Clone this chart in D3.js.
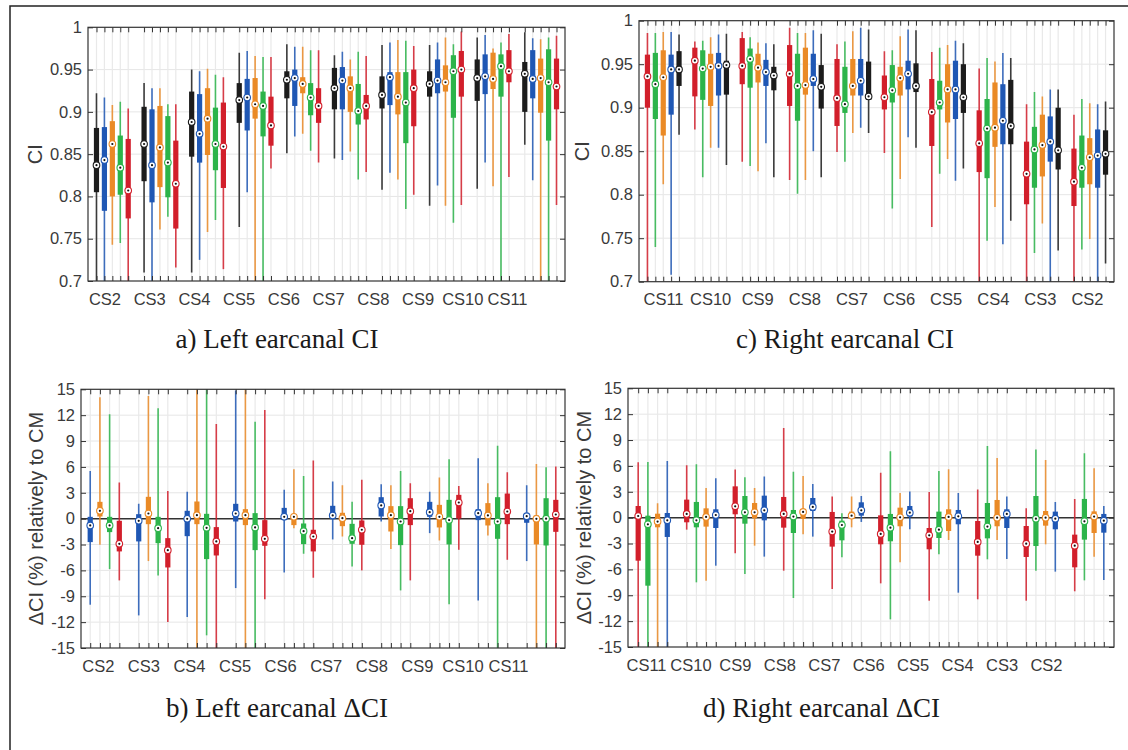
<!DOCTYPE html>
<html lang="en">
<head>
<meta charset="UTF-8">
<title>Earcanal CI box plots</title>
<style>
  body { margin: 0; background: #fff; }
  svg { display: block; }
  .tick text { font-family: 'Liberation Sans', Arial, sans-serif; font-size: 16.5px; fill: #3a3a3a; }
  .ylab { font-family: 'Liberation Sans', Arial, sans-serif; font-size: 20px; fill: #3a3a3a; }
  .ptitle { font-family: 'Liberation Serif', 'Times New Roman', serif; font-size: 27px; fill: #1a1a1a; }
</style>
<script src="https://d3js.org/d3.v7.min.js"></script>
</head>
<body>
<div id="chart"></div>
<script>
// each box: [whisker low, q1, median, q3, whisker high]; values past the axis get clipped
const groupsLeft = ["CS2", "CS3", "CS4", "CS5", "CS6", "CS7", "CS8", "CS9", "CS10", "CS11"];
const groupsRight = groupsLeft.slice().reverse();

const black = "#1c1c1c", blue = "#1f57b4", orange = "#ea8a26", green = "#2cb44a", red = "#d21f2b";
const colorsLeftCI = [black, blue, orange, green, red];
const colorsRightCI = [red, green, orange, blue, black];
const colorsLeftD = [blue, orange, green, red];
const colorsRightD = [red, green, orange, blue];

const ciTicks = [0.7, 0.75, 0.8, 0.85, 0.9, 0.95, 1];
const deltaTicks = [-15, -12, -9, -6, -3, 0, 3, 6, 9, 12, 15];

// a) left CI, CS2..CS11 (black, blue, orange, green, red)
const leftCI = [
  [[0.68,0.805,0.837,0.881,0.922],[0.68,0.783,0.843,0.882,0.917],[0.743,0.800,0.862,0.889,0.908],[0.745,0.802,0.834,0.872,0.912],[0.68,0.774,0.807,0.868,0.904]],
  [[0.710,0.818,0.862,0.906,0.934],[0.68,0.793,0.837,0.903,0.928],[0.761,0.811,0.858,0.907,0.928],[0.776,0.799,0.840,0.895,0.909],[0.716,0.762,0.815,0.866,0.909]],
  [[0.710,0.847,0.888,0.924,0.950],[0.725,0.840,0.874,0.921,0.948],[0.758,0.849,0.892,0.928,0.951],[0.772,0.831,0.862,0.905,0.944],[0.714,0.810,0.859,0.911,0.941]],
  [[0.764,0.887,0.914,0.934,0.970],[0.805,0.878,0.917,0.939,0.972],[0.68,0.892,0.909,0.940,0.966],[0.68,0.871,0.907,0.924,0.965],[0.833,0.860,0.884,0.918,0.965]],
  [[0.851,0.916,0.938,0.948,0.980],[0.871,0.907,0.940,0.950,0.977],[0.874,0.922,0.933,0.941,0.977],[0.854,0.896,0.917,0.934,0.973],[0.840,0.887,0.907,0.928,0.973]],
  [[0.845,0.903,0.928,0.952,0.967],[0.843,0.903,0.937,0.953,0.971],[0.853,0.900,0.928,0.942,0.962],[0.820,0.885,0.901,0.933,0.971],[0.829,0.891,0.907,0.920,0.966]],
  [[0.808,0.904,0.920,0.942,0.979],[0.828,0.908,0.941,0.947,0.982],[0.820,0.897,0.918,0.947,0.985],[0.785,0.863,0.911,0.947,0.984],[0.802,0.883,0.928,0.950,0.978]],
  [[0.789,0.918,0.933,0.948,0.979],[0.813,0.922,0.937,0.962,0.982],[0.789,0.924,0.935,0.955,0.988],[0.769,0.893,0.948,0.967,0.980],[0.790,0.918,0.950,0.972,0.995]],
  [[0.809,0.913,0.940,0.962,0.988],[0.840,0.921,0.942,0.968,0.991],[0.812,0.927,0.939,0.970,0.975],[0.68,0.918,0.954,0.968,0.982],[0.823,0.935,0.948,0.973,0.992]],
  [[0.861,0.900,0.945,0.959,0.994],[0.819,0.916,0.939,0.973,0.987],[0.68,0.899,0.940,0.963,0.986],[0.68,0.866,0.935,0.974,0.988],[0.790,0.903,0.930,0.963,0.990]]
];

// c) right CI, CS11..CS2 (red, green, orange, blue, black)
const rightCI = [
  [[0.68,0.900,0.936,0.961,0.986],[0.740,0.887,0.927,0.963,0.986],[0.812,0.868,0.935,0.966,0.987],[0.708,0.892,0.944,0.961,0.987],[0.869,0.925,0.944,0.965,0.984]],
  [[0.875,0.913,0.954,0.969,0.976],[0.820,0.909,0.945,0.966,0.977],[0.854,0.902,0.947,0.962,0.981],[0.854,0.914,0.948,0.963,0.984],[0.834,0.915,0.949,0.954,0.985]],
  [[0.838,0.927,0.948,0.980,0.987],[0.833,0.923,0.956,0.968,0.981],[0.827,0.929,0.946,0.962,0.975],[0.859,0.925,0.941,0.955,0.974],[0.820,0.920,0.937,0.947,0.973]],
  [[0.817,0.902,0.939,0.972,0.992],[0.801,0.885,0.925,0.962,0.986],[0.817,0.915,0.926,0.969,0.986],[0.850,0.925,0.933,0.962,0.989],[0.820,0.899,0.924,0.949,0.985]],
  [[0.849,0.879,0.911,0.956,0.973],[0.838,0.894,0.904,0.947,0.976],[0.871,0.914,0.925,0.956,0.988],[0.877,0.914,0.931,0.956,0.992],[0.871,0.909,0.913,0.953,0.990]],
  [[0.848,0.898,0.912,0.937,0.965],[0.784,0.906,0.920,0.949,0.966],[0.818,0.914,0.934,0.947,0.982],[0.866,0.921,0.939,0.954,0.990],[0.854,0.918,0.925,0.951,0.989]],
  [[0.763,0.856,0.895,0.933,0.964],[0.824,0.898,0.906,0.931,0.969],[0.841,0.883,0.921,0.950,0.972],[0.816,0.887,0.921,0.954,0.977],[0.830,0.894,0.912,0.950,0.974]],
  [[0.68,0.826,0.859,0.897,0.945],[0.747,0.819,0.876,0.910,0.957],[0.786,0.855,0.877,0.929,0.953],[0.743,0.858,0.885,0.927,0.963],[0.770,0.858,0.879,0.932,0.957]],
  [[0.68,0.789,0.824,0.861,0.904],[0.733,0.808,0.852,0.878,0.918],[0.767,0.821,0.857,0.892,0.913],[0.68,0.838,0.861,0.890,0.921],[0.736,0.829,0.851,0.900,0.921]],
  [[0.68,0.787,0.815,0.853,0.892],[0.737,0.808,0.831,0.868,0.910],[0.749,0.812,0.843,0.865,0.905],[0.68,0.808,0.845,0.875,0.904],[0.721,0.823,0.847,0.874,0.907]]
];

// b) left delta CI (%), CS2..CS11 (blue, orange, green, red)
const leftDelta = [
  [[-9.98,-2.72,-0.79,0.21,5.54],[-3.03,0.25,0.91,1.95,14.07],[-5.85,-1.56,-0.79,0.21,12.10],[-7.16,-3.80,-2.92,-0.25,4.19]],
  [[-11.22,-2.64,-0.25,0.52,1.72],[-4.92,-0.64,0.60,2.53,14.23],[-6.58,-2.84,-1.10,0.21,12.80],[-11.99,-5.66,-3.65,-2.26,3.22]],
  [[-11.41,-2.03,-0.02,0.91,3.11],[-16,-0.64,0.40,1.99,16],[-13.53,-4.69,-1.06,0.56,16],[-16,-4.27,-2.64,-0.98,10.98]],
  [[-8.05,-0.33,0.60,1.72,14.85],[-16,-0.75,0.40,1.10,16],[-16,-3.65,-1.02,0.64,11.25],[-9.36,-3.15,-2.34,-0.17,12.61]],
  [[-6.24,-0.17,0.21,1.25,3.34],[-1.10,-0.75,0.21,0.40,5.73],[-4.07,-2.95,-1.45,-0.56,4.96],[-6.85,-3.80,-2.07,-1.29,6.74]],
  [[-2.41,-0.06,0.37,1.49,4.30],[-2.07,-0.87,0.06,0.68,3.88],[-5.54,-2.92,-2.26,-0.60,1.95],[-6.00,-3.03,-1.29,-0.21,4.50]],
  [[-0.33,0.25,1.53,2.49,4.00],[-3.53,-1.49,0.40,1.45,3.88],[-8.32,-3.07,-0.33,1.45,5.54],[-7.16,-0.75,0.87,2.37,4.11]],
  [[-1.68,0.21,0.75,1.95,3.11],[-2.53,-1.02,0.21,1.60,4.77],[-9.94,-2.99,-0.17,2.18,6.89],[-3.61,0.02,1.87,2.76,3.80]],
  [[-9.48,-0.17,0.64,1.10,7.01],[-1.95,-0.79,0.37,1.80,4.11],[-16,-2.34,-0.33,2.49,8.44],[-4.77,-0.64,0.83,2.91,5.39]],
  [[-4.92,-0.48,0.29,0.56,3.88],[-16,-2.99,-0.02,0.37,6.35],[-16,-3.11,0,2.37,5.97],[-16,-1.53,0.48,2.18,6.04]]
];

// d) right delta CI (%), CS11..CS2 (red, green, orange, blue)
const rightDelta = [
  [[-16,-4.99,0.19,1.35,6.42],[-16,-7.89,-0.77,0.23,6.46],[-16,-1.12,-0.46,0.46,1.66],[-16,-2.24,-0.31,0.54,6.57]],
  [[-1.39,-0.54,0.43,2.09,6.07],[-7.50,-1.12,-0.31,1.82,6.19],[-7.31,-1.04,0.08,1.08,3.44],[-5.57,-1.20,0.31,0.97,4.56]],
  [[-4.14,0.39,1.31,3.63,5.57],[-6.53,-0.70,0.62,2.51,4.68],[-3.25,-0.08,0.62,1.70,3.44],[-4.52,-0.31,0.85,2.55,4.76]],
  [[-6.15,-1.16,0.43,2.40,10.40],[-9.32,-1.78,0.12,0.89,5.33],[-1.93,-0.15,0.66,0.97,4.83],[-2.20,0.77,1.24,2.28,3.90]],
  [[-8.27,-3.36,-1.62,0.66,2.44],[-4.60,-2.63,-0.85,-0.35,0.50],[-1.12,-0.08,0.23,0.70,2.44],[-0.50,0.23,0.85,1.78,2.51]],
  [[-7.62,-3.09,-1.89,0.27,5.22],[-11.79,-2.74,-1.16,0.43,7.70],[-5.18,-1.00,0.04,1.16,2.86],[-1.35,0.12,0.58,1.35,3.02]],
  [[-9.63,-3.67,-2.05,-1.20,2.98],[-4.25,-2.36,-1.39,0.70,5.41],[-2.59,-1.55,0.08,0.97,5.61],[-8.70,-0.77,0.15,0.89,2.86]],
  [[-9.47,-4.41,-2.82,-0.39,3.25],[-4.83,-2.40,-1.04,1.70,8.31],[-2.59,-1.00,0.00,2.05,6.92],[-4.79,-1.20,0.43,0.97,2.44]],
  [[-9.63,-4.56,-3.02,-0.97,1.08],[-6.15,-3.29,-0.12,2.51,7.89],[-3.09,-0.93,0.00,0.77,6.69],[-6.26,-1.35,-0.12,0.70,1.82]],
  [[-8.54,-5.76,-3.25,-1.97,2.17],[-7.27,-2.55,-0.43,2.17,7.47],[-4.52,-1.78,0.12,0.73,5.72],[-7.23,-1.74,-0.35,0.43,1.35]]
];

const panels = [
  { id: "a", data: leftCI, colors: colorsLeftCI, groups: groupsLeft, domain: [0.7, 1], ticks: ciTicks,
    x0: 88, x1: 565, y0: 27.3, y1: 281, pad: 1.07, labels: [104.5, 507], ylab: "CI", ylabX: 35,
    title: "a) Left earcanal CI", tx: 277, ty: 348, zero: false },
  { id: "c", data: rightCI, colors: colorsRightCI, groups: groupsRight, domain: [0.7, 1], ticks: ciTicks,
    x0: 639, x1: 1114, y0: 20.7, y1: 281.7, pad: 1.07, labels: [663, 1087], ylab: "CI", ylabX: 582,
    title: "c) Right earcanal CI", tx: 845, ty: 348, zero: false },
  { id: "b", data: leftDelta, colors: colorsLeftD, groups: groupsLeft, domain: [-15, 15], ticks: deltaTicks,
    x0: 81, x1: 565, y0: 389.3, y1: 648, pad: 0.95, labels: [97.8, 508], ylab: "ΔCI (%) relatively to CM", ylabX: 36,
    title: "b) Left earcanal ΔCI", tx: 277, ty: 717, zero: true },
  { id: "d", data: rightDelta, colors: colorsRightD, groups: groupsRight, domain: [-15, 15], ticks: deltaTicks,
    x0: 628, x1: 1114, y0: 388.3, y1: 647, pad: 1.05, labels: [646, 1046], ylab: "ΔCI (%) relatively to CM", ylabX: 584,
    title: "d) Right earcanal ΔCI", tx: 821.5, ty: 717, zero: true }
];

const width = 1128, height = 750;
const svg = d3.select("#chart").append("svg").attr("width", width).attr("height", height);

// outer figure frame (top and left edges visible)
svg.append("path").attr("d", "M10,752V6H1130").attr("fill", "none").attr("stroke", "#222").attr("stroke-width", 1.5);

panels.forEach(p => {
  const nb = p.colors.length;
  const step = nb + 1;  // nb boxes plus a 2-slot gap between groups
  const boxes = [];
  p.data.forEach((grp, gi) => grp.forEach((b, bi) => boxes.push({ pos: gi * step + bi, color: p.colors[bi], s: b })));
  const positions = boxes.map(d => d.pos);

  const x = d3.scaleLinear()
    .domain([-p.pad, (p.groups.length - 1) * step + nb - 1 + p.pad])
    .range([p.x0, p.x1]);
  const y = d3.scaleLinear().domain(p.domain).range([p.y1, p.y0]);
  const labelX = d3.scalePoint().domain(p.groups).range(p.labels);

  const g = svg.append("g");

  g.append("clipPath").attr("id", "clip-" + p.id)
    .append("rect").attr("x", p.x0).attr("y", p.y0).attr("width", p.x1 - p.x0).attr("height", p.y1 - p.y0);

  // grid
  g.append("g").selectAll("line").data(p.ticks.slice(1, -1)).join("line")
    .attr("x1", p.x0).attr("x2", p.x1).attr("y1", d => y(d)).attr("y2", d => y(d))
    .attr("stroke", "#e6e6e6").attr("stroke-width", 1);
  g.append("g").selectAll("line").data(positions).join("line")
    .attr("x1", d => x(d)).attr("x2", d => x(d)).attr("y1", p.y0).attr("y2", p.y1)
    .attr("stroke", "#e9e9e9").attr("stroke-width", 1.2);

  if (p.zero) {
    g.append("line").attr("x1", p.x0).attr("x2", p.x1).attr("y1", y(0)).attr("y2", y(0))
      .attr("stroke", "#333").attr("stroke-width", 1.5);
  }

  const marks = g.append("g").attr("clip-path", `url(#clip-${p.id})`);
  const bx = marks.selectAll("g").data(boxes).join("g");
  bx.append("line")
    .attr("x1", d => x(d.pos)).attr("x2", d => x(d.pos))
    .attr("y1", d => y(d.s[0])).attr("y2", d => y(d.s[4]))
    .attr("stroke", d => d.color).attr("stroke-width", 1.6).attr("stroke-opacity", 0.85);
  bx.append("rect")
    .attr("x", d => x(d.pos) - 2.6).attr("width", 5.2)
    .attr("y", d => y(d.s[3])).attr("height", d => y(d.s[1]) - y(d.s[3]))
    .attr("fill", d => d.color);
  bx.append("circle")
    .attr("cx", d => x(d.pos)).attr("cy", d => y(d.s[2])).attr("r", 3.3)
    .attr("fill", "#fff").attr("stroke", d => d.color).attr("stroke-width", 1.1);
  bx.append("circle")
    .attr("cx", d => x(d.pos)).attr("cy", d => y(d.s[2])).attr("r", 1.1)
    .attr("fill", "#111");

  // axes with inward ticks
  const fmt = v => String(+v.toFixed(2));
  g.append("g").attr("transform", `translate(${p.x0},0)`)
    .call(d3.axisLeft(y).tickValues(p.ticks).tickFormat(fmt).tickSizeInner(-5).tickSizeOuter(0).tickPadding(6));
  g.append("g").attr("transform", `translate(${p.x1},0)`)
    .call(d3.axisRight(y).tickValues(p.ticks).tickFormat("").tickSizeInner(-5).tickSizeOuter(0));
  g.append("g").attr("transform", `translate(0,${p.y1})`)
    .call(d3.axisBottom(x).tickValues(positions).tickFormat("").tickSizeInner(-5).tickSizeOuter(0));
  g.append("g").attr("transform", `translate(0,${p.y0})`)
    .call(d3.axisTop(x).tickValues(positions).tickFormat("").tickSizeInner(-5).tickSizeOuter(0));
  g.append("g").attr("transform", `translate(0,${p.y1})`)
    .call(d3.axisBottom(labelX).tickSize(0).tickPadding(12));

  g.selectAll(".domain").remove();
  g.selectAll(".tick line").attr("stroke", "#333").attr("stroke-width", 1);

  g.append("rect").attr("x", p.x0).attr("y", p.y0).attr("width", p.x1 - p.x0).attr("height", p.y1 - p.y0)
    .attr("fill", "none").attr("stroke", "#333").attr("stroke-width", 1.2);

  g.append("text").attr("class", "ylab")
    .attr("transform", `translate(${p.ylabX},${(p.y0 + p.y1) / 2}) rotate(-90)`)
    .attr("text-anchor", "middle").attr("dominant-baseline", "central")
    .text(p.ylab);

  g.append("text").attr("class", "ptitle")
    .attr("x", p.tx).attr("y", p.ty).attr("text-anchor", "middle")
    .text(p.title);
});
</script>
</body>
</html>
